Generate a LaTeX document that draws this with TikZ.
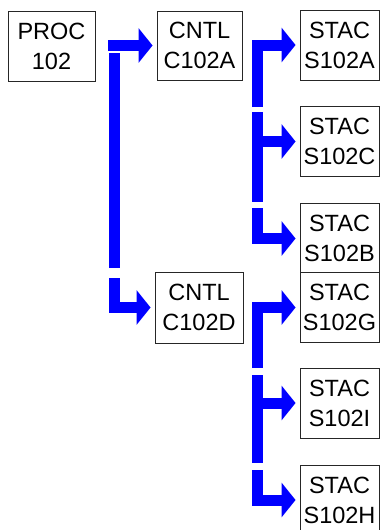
\documentclass[tikz,border=0pt]{standalone}
\usepackage{fontspec}
\setmainfont{Liberation Sans}
\usetikzlibrary{arrows.meta}
\definecolor{connblue}{RGB}{0,0,255}
\begin{document}
\begin{tikzpicture}[x=1pt,y=-1pt,
  box/.style={draw=black!85,line width=0.9pt,fill=white,inner sep=0pt,align=center,
    font=\fontsize{23.5pt}{30pt}\selectfont},
  midbox/.style={box,minimum width=86pt,minimum height=70pt},
  leafbox/.style={box,minimum width=79pt,minimum height=69.5pt},
  conn/.style={draw=connblue,line width=11pt},
  connarrow/.style={conn,-{Triangle[width=34pt,length=14pt]},shorten >=4pt}
]
\useasboundingbox (0,0) rectangle (380,530);
\clip (0,0) rectangle (380,530);

% nodes
\node[midbox,minimum width=87pt] (proc) at (51.5,46) {PROC\\102};
\node[midbox,minimum width=85pt,minimum height=69pt] (c102a) at (199.5,45.5) {CNTL\\C102A};
\node[midbox,minimum width=88pt,minimum height=71pt] (c102d) at (199,307.5) {CNTL\\C102D};
\node[leafbox,minimum height=70pt] (s102a) at (339.5,45) {STAC\\S102A};
\node[leafbox] (s102c) at (339.5,141.5) {STAC\\S102C};
\node[leafbox] (s102b) at (339.5,238.5) {STAC\\S102B};
\node[leafbox] (s102g) at (339.5,307.5) {STAC\\S102G};
\node[leafbox,minimum height=70pt] (s102i) at (339.5,403) {STAC\\S102I};
\node[leafbox,minimum height=70pt] (s102h) at (339.5,500) {STAC\\S102H};

% trunk coordinates
\coordinate (la) at (108,45);
\coordinate (lbtop) at (114,53);
\coordinate (lbbot) at (114,268);
\coordinate (lc) at (114,278);

\coordinate (ra1) at (257,107);
\coordinate (ra2top) at (257,112);
\coordinate (ra2bot) at (257,202);
\coordinate (ra3) at (257,208);

\coordinate (rb1) at (257,368);
\coordinate (rb2top) at (257,375);
\coordinate (rb2bot) at (257,463);
\coordinate (rb3) at (257,470);

% left column connectors
\draw[connarrow] (la |- c102a.west) -- (c102a.west);
\draw[conn] (lbtop) -- (lbbot);
\draw[connarrow] (lc) |- (c102d.west);

% right column, first group
\draw[connarrow] (ra1) |- (s102a.west);
\draw[conn] (ra2top) -- (ra2bot);
\draw[connarrow] (ra2top |- s102c.west) -- (s102c.west);
\draw[connarrow] (ra3) |- (s102b.west);

% right column, second group
\draw[connarrow] (rb1) |- (s102g.west);
\draw[conn] (rb2top) -- (rb2bot);
\draw[connarrow] (rb2top |- s102i.west) -- (s102i.west);
\draw[connarrow] (rb3) |- (s102h.west);
\end{tikzpicture}
\end{document}
